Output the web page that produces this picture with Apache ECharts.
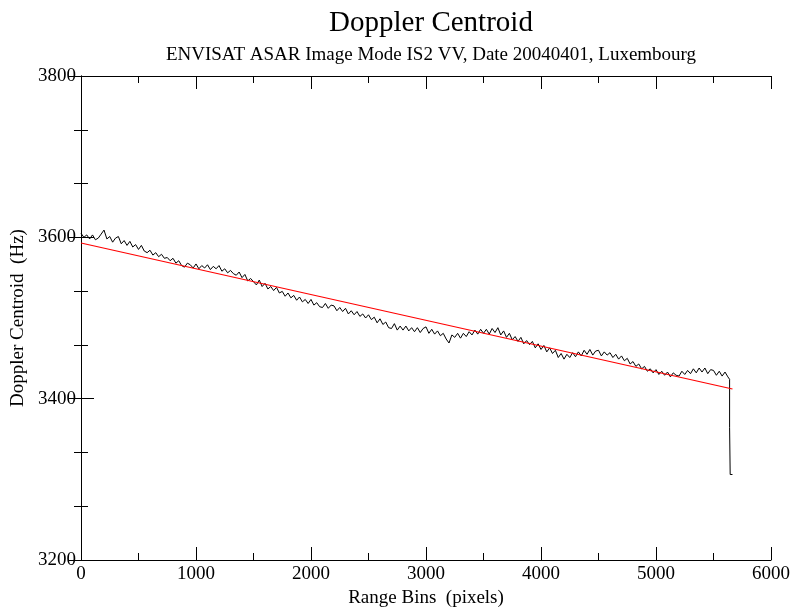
<!DOCTYPE html>
<html>
<head>
<meta charset="utf-8">
<script src="https://cdn.jsdelivr.net/npm/echarts@6/dist/echarts.min.js"></script>
<style>html,body{margin:0;padding:0;background:#fff}#c{width:795px;height:610px}</style>
</head>
<body>
<div id="c"></div>
<script>
const chartTitle = 'Doppler Centroid';
const chartSubtitle = 'ENVISAT ASAR Image Mode IS2 VV, Date 20040401, Luxembourg';
const xName = 'Range Bins  (pixels)';
const yName = 'Doppler Centroid  (Hz)';
const xTicks = [0, 1000, 2000, 3000, 4000, 5000, 6000];
const yTicks = [3200, 3400, 3600, 3800];
const binStep = 25; // sampling of the measured curve (range bins)
const doppler = [
  3605,3600,3603,3598, 3603,3597,3599,3604, 3609,3598,3601,3594, 3599,3601,3592,3596,
  3590,3595,3588,3591, 3585,3590,3583,3581, 3584,3578,3581,3576, 3579,3574,3575,3571,
  3574,3568,3571,3565, 3563,3568,3566,3562, 3567,3561,3565,3562, 3566,3560,3564,3561,
  3565,3558,3561,3556, 3559,3555,3553,3557, 3550,3554,3546,3549, 3545,3541,3547,3539,
  3543,3536,3539,3534, 3538,3531,3533,3527, 3531,3525,3528,3522, 3526,3520,3523,3518,
  3523,3516,3519,3514, 3513,3518,3512,3516, 3515,3509,3513,3508, 3512,3505,3509,3504,
  3508,3502,3505,3500, 3504,3498,3501,3494, 3499,3492,3495,3488, 3487,3493,3485,3490,
  3485,3490,3484,3488, 3483,3488,3482,3487, 3489,3481,3486,3480, 3484,3478,3481,3474,
  3469,3479,3476,3481, 3475,3481,3477,3483, 3479,3485,3480,3486, 3481,3486,3480,3487,
  3482,3488,3479,3484, 3476,3481,3473,3477, 3471,3476,3468,3472, 3467,3471,3463,3468,
  3461,3466,3458,3463, 3456,3460,3451,3456, 3449,3455,3451,3457, 3452,3458,3453,3460,
  3455,3461,3454,3459, 3460,3453,3458,3454, 3457,3451,3455,3449, 3453,3447,3450,3443,
  3446,3440,3443,3437, 3440,3434,3437,3432, 3436,3430,3434,3429, 3433,3427,3432,3429,
  3428,3434,3430,3435, 3431,3437,3432,3438, 3433,3438,3431,3436, 3435,3429,3434,3428,
  3433,3427
];
// final drop at the swath edge
const tailBins = [5640, 5640, 5645, 5645, 5665];
const tailValues = [3424, 3364, 3364, 3306, 3306];
// linear fit (red)
const fitBins = [0, 5665];
const fitValues = [3593, 3412];

const measured = doppler.map((v, i) => [i * binStep, v]);
tailBins.forEach((b, i) => measured.push([b, tailValues[i]]));
const fit = fitBins.map((b, i) => [b, fitValues[i]]);

const serif = 'Liberation Serif';
const axisLine = { show: true, lineStyle: { color: '#000', width: 1 } };
const plain = v => String(v);
const ch = echarts.init(document.getElementById('c'), null, { renderer: 'canvas' });
ch.setOption({
  backgroundColor: '#fff',
  animation: false,
  title: [
    { text: chartTitle, left: 426, top: 4, textAlign: 'center',
      textStyle: { fontFamily: serif, fontSize: 29, fontWeight: 'normal', color: '#000' } },
    { text: chartSubtitle, left: 426, top: 41, textAlign: 'center',
      textStyle: { fontFamily: serif, fontSize: 19, fontWeight: 'normal', color: '#000' } }
  ],
  grid: { left: 81, right: 24, top: 76, bottom: 50, containLabel: false, outerBoundsMode: 'none' },
  xAxis: [
    { type: 'value', min: xTicks[0], max: xTicks[xTicks.length - 1], interval: 1000, position: 'bottom',
      name: xName, nameLocation: 'middle', nameGap: 23,
      nameTextStyle: { fontFamily: serif, fontSize: 19, color: '#000' },
      axisLine: axisLine,
      axisTick: { show: true, inside: true, length: 13, lineStyle: { color: '#000' } },
      minorTick: { show: true, splitNumber: 2, length: 7, lineStyle: { color: '#000' } },
      axisLabel: { fontFamily: serif, fontSize: 19, color: '#000', margin: 5, formatter: plain },
      splitLine: { show: false } },
    { type: 'value', min: xTicks[0], max: xTicks[xTicks.length - 1], interval: 1000, position: 'top',
      axisLine: axisLine,
      axisTick: { show: true, inside: true, length: 13, lineStyle: { color: '#000' } },
      minorTick: { show: true, splitNumber: 2, length: 7, lineStyle: { color: '#000' } },
      axisLabel: { show: false }, splitLine: { show: false } }
  ],
  yAxis: [
    { type: 'value', min: yTicks[0], max: yTicks[yTicks.length - 1], interval: 200, position: 'left',
      name: yName, nameLocation: 'middle', nameGap: 52, nameRotate: 90,
      nameTextStyle: { fontFamily: serif, fontSize: 19, color: '#000' },
      axisLine: axisLine,
      axisTick: { show: true, inside: true, length: 13, lineStyle: { color: '#000' } },
      minorTick: { show: true, splitNumber: 3, length: 7, lineStyle: { color: '#000' } },
      axisLabel: { fontFamily: serif, fontSize: 19, color: '#000', margin: 5, formatter: plain },
      splitLine: { show: false } },
    { type: 'value', min: yTicks[0], max: yTicks[yTicks.length - 1], interval: 200, position: 'right',
      axisLine: axisLine,
      axisTick: { show: true, inside: true, length: 13, lineStyle: { color: '#000' } },
      minorTick: { show: true, splitNumber: 3, length: 7, lineStyle: { color: '#000' } },
      axisLabel: { show: false }, splitLine: { show: false } }
  ],
  series: [
    { type: 'line', data: measured, showSymbol: false, symbol: 'none',
      lineStyle: { color: '#000', width: 1 }, z: 2 },
    { type: 'line', data: fit, showSymbol: false, symbol: 'none',
      lineStyle: { color: '#ff0000', width: 1.2 }, z: 3 }
  ]
});
</script>
</body>
</html>
